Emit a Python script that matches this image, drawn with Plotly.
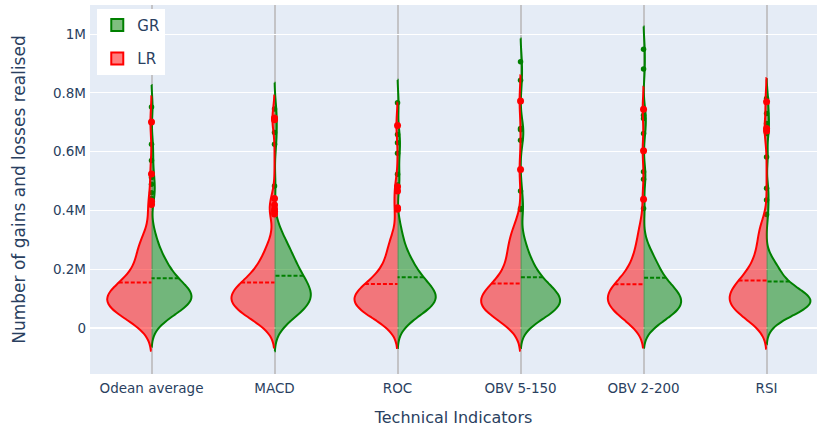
import numpy as np
import plotly.graph_objects as go

categories = ["Odean average", "MACD", "ROC", "OBV 5-150", "OBV 2-200", "RSI"]

# Frequency table of the bulk of each sample (value of the bin and number of observations)
bin_values = [10000, 30000, 50000, 70000, 90000, 110000, 130000, 150000, 170000, 190000,
              210000, 230000, 250000, 270000, 290000, 310000, 330000, 350000, 370000,
              390000, 410000, 430000, 450000]

gr_counts = {
    "Odean average": [1, 3, 5, 8, 10, 11, 9, 6, 5, 4, 4, 3, 2, 2, 1, 1, 1, 0, 0, 0, 0, 0, 0],
    "MACD":          [1, 3, 6, 8, 9, 9, 8, 7, 6, 5, 5, 4, 4, 3, 3, 2, 1, 1, 0, 0, 0, 0, 0],
    "ROC":           [1, 3, 5, 8, 10, 10, 8, 6, 5, 4, 4, 3, 2, 2, 1, 1, 1, 1, 0, 0, 0, 0, 0],
    "OBV 5-150":     [1, 4, 7, 10, 10, 9, 7, 5, 4, 3, 3, 2, 2, 1, 1, 1, 0, 0, 0, 0, 0, 0, 0],
    "OBV 2-200":     [2, 5, 8, 10, 10, 9, 7, 6, 4, 3, 4, 3, 2, 1, 1, 0, 0, 0, 0, 0, 0, 0, 0],
    "RSI":           [1, 3, 7, 11, 14, 11, 7, 4, 4, 3, 3, 2, 0, 0, 0, 0, 0, 0, 0, 0, 0, 0, 0],
}
lr_counts = {
    "Odean average": [2, 4, 7, 9, 10, 10, 8, 5, 4, 3, 3, 2, 3, 3, 2, 2, 1, 0, 0, 0, 0, 0, 0],
    "MACD":          [2, 5, 7, 9, 10, 10, 9, 7, 5, 4, 3, 3, 2, 2, 1, 1, 0, 0, 0, 0, 0, 0, 0],
    "ROC":           [2, 4, 7, 9, 10, 10, 8, 6, 4, 3, 3, 2, 2, 2, 2, 1, 1, 0, 0, 0, 0, 0, 0],
    "OBV 5-150":     [2, 4, 8, 10, 10, 9, 7, 5, 4, 3, 3, 2, 3, 3, 2, 2, 2, 2, 0, 0, 0, 0, 0],
    "OBV 2-200":     [3, 5, 7, 9, 10, 10, 9, 7, 5, 4, 3, 3, 2, 2, 2, 1, 1, 2, 0, 0, 0, 0, 0],
    "RSI":           [2, 4, 7, 9, 9, 9, 8, 7, 5, 4, 3, 3, 2, 2, 2, 2, 1, 3, 0, 0, 0, 0, 0],
}

# Individual large observations (shown as outlier points)
gr_outliers = {
    "Odean average": [440000, 460000, 489000, 512000, 570000, 625000, 752000],
    "MACD":          [483000, 625000, 665000, 711000, 745000],
    "ROC":           [486000, 523000, 594000, 630000, 658000, 766000],
    "OBV 5-150":     [403000, 406000, 466000, 639000, 674000, 679000, 843000, 906000],
    "OBV 2-200":     [406000, 506000, 531000, 662000, 713000, 724000, 881000, 948000],
    "RSI":           [386000, 435000, 475000, 582000, 662000, 696000, 730000, 781000],
}
lr_outliers = {
    "Odean average": [392000, 420000, 431000, 524000, 701000],
    "MACD":          [388000, 397000, 405000, 418000, 440000, 708000, 714000],
    "ROC":           [404000, 409000, 466000, 480000, 689000],
    "OBV 5-150":     [539000, 772000],
    "OBV 2-200":     [438000, 603000, 744000],
    "RSI":           [670000, 679000, 770000],
}

y_tick_values = [0, 200000, 400000, 600000, 800000, 1000000]
y_tick_labels = ["0", "0.2M", "0.4M", "0.6M", "0.8M", "1M"]

# ---- styles ----
GR_COLOR = "green"
LR_COLOR = "red"
gr_widths = [0.65, 0.59, 0.62, 0.64, 0.61, 0.71]
lr_widths = [0.72, 0.70, 0.70, 0.64, 0.58, 0.60]

fig = go.Figure()

def add_side(name, color, side, counts, outliers, widths, msize):
    for i, cat in enumerate(categories):
        sample = np.concatenate([np.repeat(bin_values, counts[cat]), outliers[cat]])
        fig.add_trace(go.Violin(
            x=[cat] * len(sample), y=sample,
            name=name, legendgroup=name, showlegend=(i == 0),
            side=side, line=dict(color=color, width=2),
            points="outliers", pointpos=0, jitter=0,
            marker=dict(color=color, size=msize),
            meanline=dict(visible=True), box=dict(visible=False),
            scalemode="width", width=widths[i], spanmode="soft",
        ))

add_side("GR", GR_COLOR, "positive", gr_counts, gr_outliers, gr_widths, 5.5)
add_side("LR", LR_COLOR, "negative", lr_counts, lr_outliers, lr_widths, 7)

GRID = "#c3c3c6"
fig.update_layout(
    width=817, height=429,
    margin=dict(l=90, r=0, t=5, b=55, autoexpand=False),
    violinmode="overlay",
    plot_bgcolor="#E5ECF6",
    paper_bgcolor="white",
    font=dict(family="DejaVu Sans, Verdana, sans-serif", size=13.5, color="#2a3f5f"),
    legend=dict(x=0.01, y=0.99, xanchor="left", yanchor="top",
                bgcolor="white", font=dict(size=15), tracegroupgap=11),
    xaxis=dict(
        title=dict(text="Technical Indicators", font=dict(size=16), standoff=17),
        type="category", categoryorder="array", categoryarray=categories,
        range=[-0.5, 5.41], showgrid=True, gridcolor=GRID, gridwidth=2,
        ticks="", zeroline=False, automargin=False, ticklabelstandoff=4,
    ),
    yaxis=dict(
        title=dict(text="Number of gains and losses realised", font=dict(size=17), standoff=22),
        range=[-157000, 1099000], tickmode="array",
        tickvals=y_tick_values, ticktext=y_tick_labels,
        showgrid=True, gridcolor="white", gridwidth=1,
        zeroline=True, zerolinecolor="white", zerolinewidth=2,
        automargin=False, ticklabelstandoff=3,
    ),
    yaxis2=dict(
        overlaying="y", anchor="x", side="left", matches="y",
        tickmode="array", tickvals=[200000, 400000, 800000, 1000000],
        showticklabels=False, showgrid=True, gridcolor=GRID, gridwidth=2,
        zeroline=False, ticks="", automargin=False,
    ),
)

fig.write_html("out.html", config={"displayModeBar": False},
               post_script="document.body.style.margin='0';document.body.style.padding='0';")
